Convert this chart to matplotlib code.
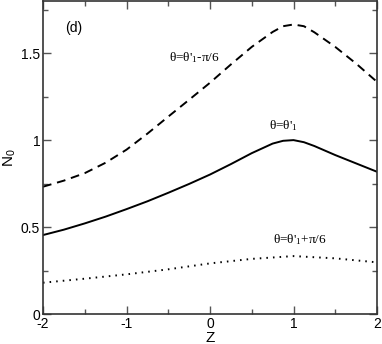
import matplotlib
matplotlib.use("Agg")
import matplotlib.pyplot as plt
from matplotlib.ticker import MultipleLocator

z_vals = [-2.0, -1.75, -1.5, -1.25, -1.0, -0.75, -0.5, -0.25, 0.0,
          0.25, 0.5, 0.75, 0.875, 1.0, 1.125, 1.25, 1.5, 1.75, 2.0]
n_solid = [0.454, 0.485, 0.521, 0.560, 0.603, 0.648, 0.697, 0.748, 0.802,
           0.862, 0.925, 0.980, 0.996, 1.000, 0.988, 0.966, 0.914, 0.866, 0.818]
n_dashed = [0.732, 0.767, 0.810, 0.870, 0.945, 1.037, 1.135, 1.232, 1.330,
            1.435, 1.536, 1.622, 1.655, 1.665, 1.655, 1.620, 1.536, 1.440, 1.335]
z_dot = [-2.0, -1.5, -1.0, -0.5, 0.0, 0.5, 1.0, 1.5, 2.0]
n_dotted = [0.180, 0.203, 0.228, 0.257, 0.291, 0.317, 0.333, 0.320, 0.297]

x_ticks = [-2, -1, 0, 1, 2]
y_ticks = [0, 0.5, 1, 1.5]
y_tick_labels = ["0", "0.5", "1", "1.5"]

plt.rcParams['font.family'] = ['Liberation Sans', 'DejaVu Sans']
plt.rcParams['mathtext.default'] = 'regular'

fig = plt.figure(figsize=(3.82, 3.44), dpi=100)
ax = fig.add_axes([43/382, 30/344, 334/382, 313/344])

ax.plot(z_vals, n_dashed, color='black', lw=1.4, ls=(0, (4.5, 3)))
ax.plot(z_vals, n_solid, color='black', lw=1.4, ls='-')
ax.plot(z_dot, n_dotted, color='black', lw=1.4, ls=(0, (0.8, 2.6)))

ax.set_xlim(-2, 2)
ax.set_ylim(0, 1.8)
ax.set_xticks(x_ticks)
ax.set_xticklabels([str(t) for t in x_ticks])
ax.set_yticks(y_ticks)
ax.set_yticklabels(y_tick_labels)
ax.xaxis.set_minor_locator(MultipleLocator(0.5))
ax.yaxis.set_minor_locator(MultipleLocator(0.25))
ax.tick_params(which='both', direction='in', top=True, right=True, labelsize=10,
               color='#555555', width=1.0)
ax.tick_params(which='major', length=6, pad=2)
ax.tick_params(which='minor', length=3.5)
for s in ax.spines.values():
    s.set_linewidth(1.2)
    s.set_color('#333333')

ax.set_xlabel('Z', fontsize=11, labelpad=0)
ax.set_ylabel(r'N$_0$', fontsize=11, labelpad=2)

serif = ['Liberation Serif', 'DejaVu Serif']
ax.text(-1.635, 1.647, '(d)', fontsize=10, ha='center', va='center')
ax.text(-0.19, 1.477, r"θ=θ'$_1$-π/6", fontsize=9.5, family=serif,
        ha='center', va='center')
ax.text(0.88, 1.086, r"θ=θ'$_1$", fontsize=9.5, family=serif,
        ha='center', va='center')
ax.text(1.08, 0.425, r"θ=θ'$_1$+π/6", fontsize=9.5, family=serif,
        ha='center', va='center')

fig.savefig('out.png', dpi=100)
